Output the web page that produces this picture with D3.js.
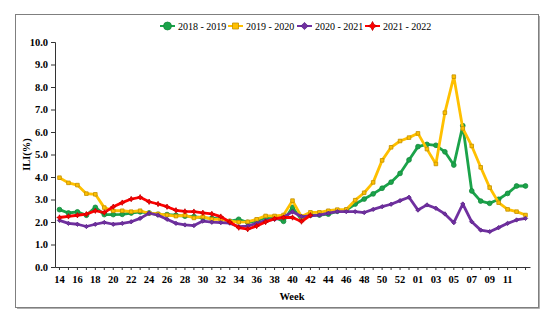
<!DOCTYPE html>
<html>
<head>
<meta charset="utf-8">
<script src="https://cdn.jsdelivr.net/npm/d3@7"></script>
<style>
	body { margin: 0; background: #fff; }
	#chart { width: 554px; height: 321px; }
</style>
</head>
<body>
<div id="chart"></div>
<script>
// week categories (week 14 to week 13 of the next year)
var weeks = ["14","15","16","17","18","19","20","21","22","23","24","25","26","27","28","29","30","31","32","33",
	"34","35","36","37","38","39","40","41","42","43","44","45","46","47","48","49","50","51","52","53",
	"01","02","03","04","05","06","07","08","09","10","11","12","13"];

var weekLabels = ["14","16","18","20","22","24","26","28","30","32","34","36","38","40","42","44","46","48","50","52",
	"01","03","05","07","09","11"];

var yTicks = [0,1,2,3,4,5,6,7,8,9,10];

var seriesNames = ["2018 - 2019","2019 - 2020","2020 - 2021","2021 - 2022"];

var ili_2018 = [2.55,2.4,2.45,2.3,2.65,2.33,2.33,2.34,2.4,2.45,2.4,2.34,2.33,2.3,2.26,2.24,2.18,2.17,2.14,2.03,
	2.12,1.98,2.05,2.2,2.2,2.03,2.65,2.1,2.31,2.31,2.35,2.48,2.53,2.8,3.02,3.25,3.5,3.77,4.16,4.76,
	5.35,5.45,5.41,5.12,4.53,6.28,3.38,2.93,2.83,3.01,3.27,3.6,3.6];

var ili_2019 = [3.97,3.74,3.64,3.26,3.23,2.64,2.5,2.5,2.46,2.5,2.39,2.36,2.31,2.26,2.3,2.18,2.24,2.12,2.12,2.04,
	1.99,2.01,2.12,2.27,2.27,2.31,2.95,2.24,2.43,2.43,2.5,2.55,2.56,2.97,3.3,3.76,4.74,5.32,5.6,5.75,
	5.94,5.24,4.58,6.86,8.46,6.16,5.38,4.43,3.53,2.86,2.56,2.46,2.31];

var ili_2020 = [2.07,1.94,1.9,1.8,1.9,1.98,1.9,1.94,2.01,2.16,2.39,2.3,2.12,1.94,1.87,1.84,2.04,1.99,1.97,1.95,
	1.79,1.82,1.94,2.06,2.12,2.21,2.46,2.24,2.27,2.31,2.39,2.46,2.46,2.46,2.42,2.56,2.68,2.79,2.95,3.1,
	2.53,2.76,2.61,2.36,1.97,2.8,2.01,1.64,1.57,1.75,1.94,2.09,2.16];

var ili_2021 = [2.2,2.25,2.3,2.35,2.5,2.42,2.68,2.86,3.02,3.1,2.9,2.8,2.68,2.52,2.47,2.46,2.41,2.36,2.24,2.0,
	1.75,1.68,1.82,2.0,2.15,2.2,2.2,2.02,2.3];

var colors = ["#1ba34a","#ffc000","#7030a0","#ff0000"];
var markerStroke = ["#138a3b","#c28f00","#5b2486","#c00000"];
var markerType = ["circle","square","diamond","star"];
var serif = "'Liberation Serif', 'Times New Roman', 'DejaVu Serif', serif";

var chart = function(){
	var width = 554, height = 321;
	var padding = { top : 42, bottom : 54, left : 55, right : 24 };

	var svg = d3.select("#chart").append("svg")
		.attr("width", width)
		.attr("height", height)
		.style("display", "block");

	// outer frame
	svg.append("rect")
		.attr("x", 15.5)
		.attr("y", 14.5)
		.attr("width", 523)
		.attr("height", 293)
		.style("fill", "none")
		.style("stroke", "#7f7f7f")
		.style("stroke-width", 1);
	svg.append("path")
		.attr("d", "M 539.5,16 L 539.5,308.5 L 17,308.5")
		.style("fill", "none")
		.style("stroke", "#b0b0b0")
		.style("stroke-width", 1);

	var x = d3.scaleBand().domain(weeks).range([padding.left, width - padding.right]);
	var y = d3.scaleLinear().domain([0, 10]).range([height - padding.bottom, padding.top]);

	var g = svg.append("g");

	// y axis
	var yAxis = g.append("g")
		.attr("transform", "translate(" + padding.left + ",0)")
		.call(d3.axisLeft(y).tickValues(yTicks).tickSize(4).tickFormat(d3.format(".1f")));
	yAxis.selectAll("text")
		.style("font-family", serif)
		.style("font-size", "10.5px")
		.style("font-weight", "bold")
		.style("fill", "#000")
		.attr("x", -7);
	yAxis.select(".domain").style("stroke", "#333");
	yAxis.selectAll(".tick line").style("stroke", "#333");

	// x axis
	var xAxis = g.append("g")
		.attr("transform", "translate(0," + (height - padding.bottom) + ")")
		.call(d3.axisBottom(x).tickSize(3).tickSizeOuter(0).tickFormat(function(d){
			return weekLabels.indexOf(d) >= 0 ? d : "";
		}));
	xAxis.selectAll("text")
		.style("font-family", serif)
		.style("font-size", "10.5px")
		.style("font-weight", "bold")
		.style("fill", "#000")
		.attr("y", 9);
	xAxis.select(".domain").style("stroke", "#333");
	xAxis.selectAll(".tick line").style("stroke", "#333");

	// axis titles
	g.append("text")
		.attr("x", 292)
		.attr("y", 300)
		.style("text-anchor", "middle")
		.style("font-family", serif)
		.style("font-size", "10.5px")
		.style("font-weight", "bold")
		.text("Week");

	g.append("text")
		.attr("transform", "translate(30," + y(5) + ") rotate(-90)")
		.style("text-anchor", "middle")
		.style("font-family", serif)
		.style("font-size", "10.5px")
		.style("font-weight", "bold")
		.text("ILI(%)");

	var allSeries = [ili_2018, ili_2019, ili_2020, ili_2021];

	var line = d3.line()
		.x(function(d, i){ return x(weeks[i]) + x.bandwidth() / 2; })
		.y(function(d){ return y(d); });

	for(var s = 0; s < allSeries.length; s++)
	{
		var sg = g.append("g").attr("class", "series_" + s);
		sg.append("path")
			.attr("d", line(allSeries[s]))
			.style("fill", "none")
			.style("stroke", colors[s])
			.style("stroke-width", 2.8)
			.style("stroke-linejoin", "round");

		sg.selectAll(".marker").data(allSeries[s])
			.enter()
			.append("path")
			.attr("class", "marker")
			.attr("transform", function(d, i){
				return "translate(" + (x(weeks[i]) + x.bandwidth() / 2) + "," + y(d) + ")";
			})
			.attr("d", markerPath(markerType[s], 0.9))
			.style("fill", colors[s])
			.style("stroke", markerStroke[s])
			.style("stroke-width", 0.8);
	}

	// legend
	var legendX = [160, 228, 297, 365];
	var legendY = 26;
	var legend = g.selectAll(".legend_item").data(seriesNames)
		.enter()
		.append("g")
		.attr("class", "legend_item")
		.attr("transform", function(d, i){ return "translate(" + legendX[i] + "," + legendY + ")"; });

	legend.append("line")
		.attr("x1", 0)
		.attr("x2", 15)
		.style("stroke", function(d, i){ return colors[i]; })
		.style("stroke-width", 2);

	legend.append("path")
		.attr("transform", "translate(7.5,0)")
		.attr("d", function(d, i){ return markerPath(markerType[i], 1.5); })
		.style("fill", function(d, i){ return colors[i]; })
		.style("stroke", function(d, i){ return markerStroke[i]; })
		.style("stroke-width", 0.8);

	legend.append("text")
		.attr("x", 18)
		.attr("y", 3.5)
		.style("font-family", serif)
		.style("font-size", "10px")
		.style("fill", "#000")
		.text(function(d){ return d; });
};

var markerPath = function(type, k)
{
	if(type == "circle")
		return d3.symbol().type(d3.symbolCircle).size(22 * k * k)();
	if(type == "square")
	{
		var h = 2 * k;
		return "M" + (-h) + "," + (-h) + "H" + h + "V" + h + "H" + (-h) + "Z";
	}
	if(type == "diamond")
	{
		var r = 2.4 * k;
		return "M0," + (-r) + "L" + r + ",0L0," + r + "L" + (-r) + ",0Z";
	}
	// four point star
	var a = 3 * k, b = 1 * k;
	return "M0," + (-a) + "L" + b + "," + (-b) + "L" + a + ",0L" + b + "," + b +
		"L0," + a + "L" + (-b) + "," + b + "L" + (-a) + ",0L" + (-b) + "," + (-b) + "Z";
};

chart();
</script>
</body>
</html>
